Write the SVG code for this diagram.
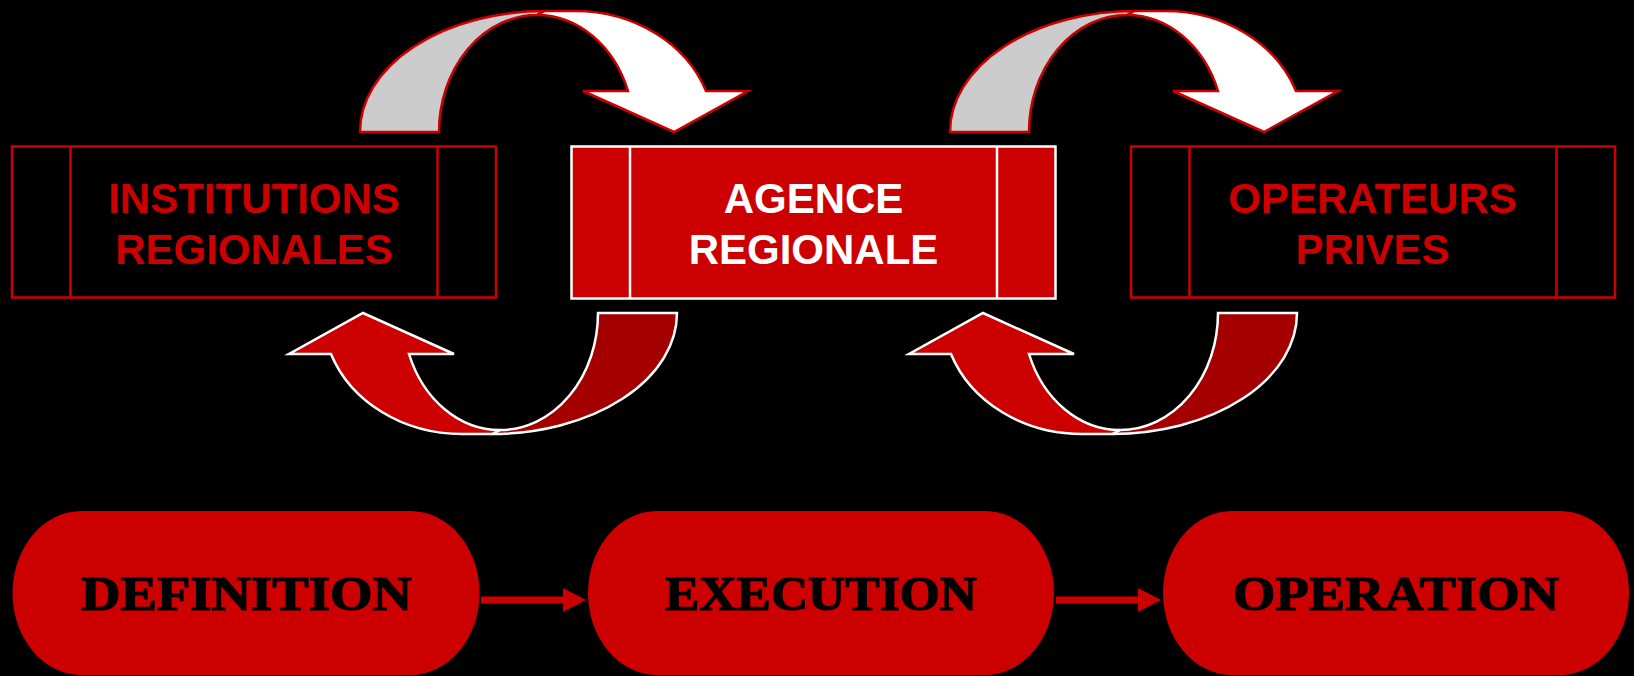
<svg xmlns="http://www.w3.org/2000/svg" width="1634" height="676" viewBox="0 0 1634 676">
<defs>
<style>
.box{fill:none;stroke:#cc0000;stroke-width:2.5}
.boxw{fill:#cc0000;stroke:#ffffff;stroke-width:2.5}
.divr{stroke:#cc0000;stroke-width:2.5}
.divw{stroke:#ffffff;stroke-width:2.5}
.lbl{font-family:"Liberation Sans",Arial,sans-serif;font-weight:bold;font-size:42px;text-anchor:middle}
.pill{fill:#cc0000}
.ptxt{font-family:"Liberation Serif","Times New Roman",serif;font-weight:bold;font-size:48px;fill:#000;stroke:#000;stroke-width:1.2;text-anchor:middle}
.back-top{fill:#cccccc;stroke:#cc0000;stroke-width:2.5;stroke-linejoin:miter}
.front-top{fill:#ffffff;stroke:#cc0000;stroke-width:2.5;stroke-linejoin:miter}
.back-bot{fill:#a50000;stroke:#ffffff;stroke-width:2.5}
.front-bot{fill:#cc0000;stroke:#ffffff;stroke-width:2.5}
.conn{fill:#cc0000}
</style>
<path id="backShape" d="M360,132 A185,121 0 0 1 545,11 L537,15 A98,117 0 0 0 439,132 Z"/>
<path id="frontShape" d="M537,15 L545,11 L575,11 A139,121 0 0 1 706,91 L748,91 L674,132 L583,91 L628,91 A97,117 0 0 0 537,15 Z"/>
</defs>
<rect x="0" y="0" width="1634" height="676" fill="#000000"/>

<g id="connectors">
  <g id="curve-top-1">
    <use href="#backShape" class="back-top"/>
    <use href="#frontShape" class="front-top"/>
  </g>
  <g id="curve-top-2" transform="translate(590,0)">
    <use href="#backShape" class="back-top"/>
    <use href="#frontShape" class="front-top"/>
  </g>
  <g id="curve-bot-1" transform="rotate(180,518.5,222.5)">
    <use href="#backShape" class="back-bot"/>
    <use href="#frontShape" class="front-bot"/>
  </g>
  <g id="curve-bot-2" transform="translate(620,0) rotate(180,518.5,222.5)">
    <use href="#backShape" class="back-bot"/>
    <use href="#frontShape" class="front-bot"/>
  </g>
  <path id="arrow-def-exe" class="conn" d="M481,596.5 L563,596.5 L563,588 L586,600 L563,612 L563,603.5 L481,603.5 Z"/>
  <path id="arrow-exe-op" class="conn" d="M1056,596.5 L1138,596.5 L1138,588 L1161,600 L1138,612 L1138,603.5 L1056,603.5 Z"/>
</g>

<g id="node-institutions">
  <rect class="box" x="12" y="146.5" width="484" height="151"/>
  <line class="divr" x1="70.5" y1="146.5" x2="70.5" y2="297.5"/>
  <line class="divr" x1="437.5" y1="146.5" x2="437.5" y2="297.5"/>
  <text class="lbl" fill="#cc0000" x="254" y="212.5">INSTITUTIONS</text>
  <text class="lbl" fill="#cc0000" x="254" y="264">REGIONALES</text>
</g>

<g id="node-agence">
  <rect class="boxw" x="571.5" y="146.5" width="484" height="152"/>
  <line class="divw" x1="630" y1="146.5" x2="630" y2="298.5"/>
  <line class="divw" x1="997" y1="146.5" x2="997" y2="298.5"/>
  <text class="lbl" fill="#ffffff" x="813.5" y="212.5">AGENCE</text>
  <text class="lbl" fill="#ffffff" x="813.5" y="264">REGIONALE</text>
</g>

<g id="node-operateurs">
  <rect class="box" x="1131" y="146.5" width="484" height="151"/>
  <line class="divr" x1="1189.5" y1="146.5" x2="1189.5" y2="297.5"/>
  <line class="divr" x1="1556.5" y1="146.5" x2="1556.5" y2="297.5"/>
  <text class="lbl" fill="#cc0000" x="1372.5" y="212.5">OPERATEURS</text>
  <text class="lbl" fill="#cc0000" x="1372.5" y="264">PRIVES</text>
</g>

<g id="node-definition">
  <rect class="pill" x="12.5" y="511" width="467" height="164" rx="69" ry="82"/>
  <text class="ptxt" x="246.5" y="610" textLength="331" lengthAdjust="spacingAndGlyphs">DEFINITION</text>
</g>

<g id="node-execution">
  <rect class="pill" x="588" y="511" width="466" height="164" rx="69" ry="82"/>
  <text class="ptxt" x="821" y="610" textLength="312" lengthAdjust="spacingAndGlyphs">EXECUTION</text>
</g>

<g id="node-operation">
  <rect class="pill" x="1163" y="511" width="466" height="164" rx="69" ry="82"/>
  <text class="ptxt" x="1396" y="610" textLength="326" lengthAdjust="spacingAndGlyphs">OPERATION</text>
</g>
</svg>
